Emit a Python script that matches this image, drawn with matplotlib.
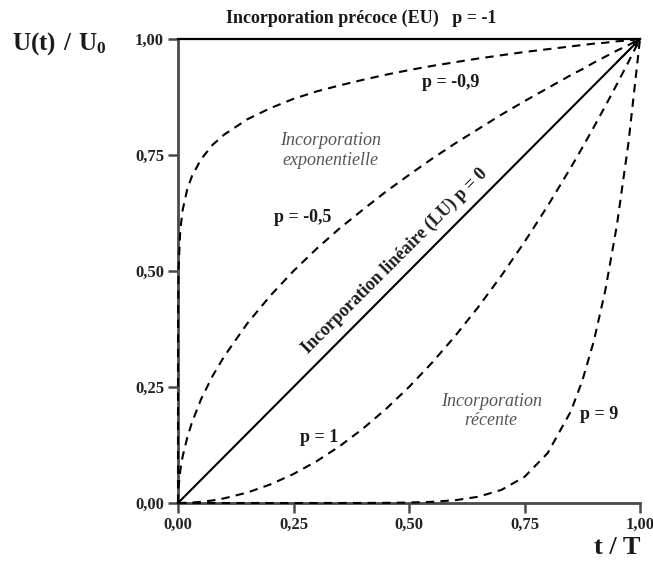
import matplotlib
matplotlib.use("Agg")
import matplotlib.pyplot as plt

plt.rcParams['font.family'] = ['Liberation Serif', 'DejaVu Serif']
plt.rcParams['mathtext.fontset'] = 'custom'
plt.rcParams['mathtext.rm'] = 'Liberation Serif'
plt.rcParams['mathtext.bf'] = 'Liberation Serif:bold'

# t / T sample positions
t_vals = [0, 1e-5, 1e-4, 1e-3, 0.005, 0.01, 0.02, 0.03, 0.05, 0.075, 0.1, 0.15, 0.2,
          0.25, 0.3, 0.35, 0.4, 0.45, 0.5, 0.55, 0.6, 0.65, 0.7, 0.75, 0.8, 0.85,
          0.875, 0.9, 0.925, 0.95, 0.975, 1.0]

# U(t)/U0 curves
u_p_m1 = [1.0] * len(t_vals)
u_p_m09 = [0, 0.316, 0.398, 0.501, 0.589, 0.631, 0.676, 0.704, 0.741, 0.772, 0.794, 0.827,
           0.851, 0.871, 0.887, 0.900, 0.912, 0.923, 0.933, 0.942, 0.950, 0.958, 0.965,
           0.972, 0.978, 0.984, 0.987, 0.990, 0.992, 0.995, 0.997, 1.0]
u_p_m05 = [0, 0.00316, 0.01, 0.0316, 0.0707, 0.1, 0.141, 0.173, 0.224, 0.274, 0.316, 0.387,
           0.447, 0.5, 0.548, 0.592, 0.632, 0.671, 0.707, 0.742, 0.775, 0.806, 0.837,
           0.866, 0.894, 0.922, 0.935, 0.949, 0.962, 0.975, 0.987, 1.0]
u_p_0 = [0, 1e-5, 1e-4, 1e-3, 0.005, 0.01, 0.02, 0.03, 0.05, 0.075, 0.1, 0.15, 0.2,
         0.25, 0.3, 0.35, 0.4, 0.45, 0.5, 0.55, 0.6, 0.65, 0.7, 0.75, 0.8, 0.85,
         0.875, 0.9, 0.925, 0.95, 0.975, 1.0]
u_p_1 = [0, 0, 0, 0.000001, 0.000025, 0.0001, 0.0004, 0.0009, 0.0025, 0.0056, 0.01, 0.0225,
         0.04, 0.0625, 0.09, 0.1225, 0.16, 0.2025, 0.25, 0.3025, 0.36, 0.4225, 0.49,
         0.5625, 0.64, 0.7225, 0.7656, 0.81, 0.8556, 0.9025, 0.9506, 1.0]
u_p_9 = [0, 0, 0, 0, 0, 0, 0, 0, 0, 0, 0, 0, 0, 0.000001, 0.000006, 0.000028, 0.000105,
         0.00034, 0.00098, 0.00253, 0.00605, 0.01346, 0.0282, 0.0563, 0.1074, 0.1969,
         0.2631, 0.3487, 0.4586, 0.5987, 0.7763, 1.0]

tick_vals = [0, 0.25, 0.5, 0.75, 1.0]
tick_labels = ["0,00", "0,25", "0,50", "0,75", "1,00"]

W, H = 653, 566
fig = plt.figure(figsize=(W / 100, H / 100), dpi=100)
ax = fig.add_axes([178 / W, 1 - 503 / H, (640 - 178) / W, (503 - 39) / H])
ax.set_xlim(0, 1)
ax.set_ylim(0, 1)

dash = (0, (4.0, 3.0))
ax.plot(t_vals, u_p_m1, color='black', lw=1.6, clip_on=False, zorder=3)
ax.plot(t_vals, u_p_0, color='black', lw=1.5, clip_on=False, zorder=3)
for u in (u_p_m09, u_p_m05, u_p_1, u_p_9):
    ax.plot(t_vals, u, color='black', lw=1.5, linestyle=dash, clip_on=False, zorder=3)

# small arrowhead where the curves meet
ax.annotate('', xy=(t_vals[-1], u_p_0[-1]), xytext=(t_vals[-3], u_p_0[-3]),
            arrowprops=dict(arrowstyle='-|>', color='black', lw=1.2,
                            mutation_scale=10, shrinkA=0, shrinkB=0),
            annotation_clip=False, zorder=4)

for s in ('top', 'right'):
    ax.spines[s].set_visible(False)
for s in ('left', 'bottom'):
    ax.spines[s].set_color('#4a4a4a')
    ax.spines[s].set_linewidth(2.0)

ax.set_xticks(tick_vals)
ax.set_xticklabels(tick_labels)
ax.set_yticks(tick_vals)
ax.set_yticklabels(tick_labels)
ax.tick_params(direction='out', length=7, width=1.8, color='#4a4a4a', pad=3)
for lab in ax.get_xticklabels() + ax.get_yticklabels():
    lab.set_fontweight('bold')
    lab.set_fontsize(12)
    lab.set_color('#222222')

bold = dict(fontweight='bold', color='#1a1a1a')
fig.text(12 / W, 1 - 44 / H, r'$\mathbf{U(t)\ /\ U_0}$', fontsize=18, ha='left', va='center',
         color='#1a1a1a')
fig.text(641 / W, 1 - 548 / H, 't / T', fontsize=19, ha='right', va='center', **bold)

ax.text(0.396, 1.045, 'Incorporation précoce (EU)   p = -1', transform=ax.transAxes,
        ha='center', va='center', fontsize=13, **bold)
ax.text(0.59, 0.906, 'p = -0,9', ha='center', va='center', fontsize=13, **bold)
ax.text(0.33, 0.76, 'Incorporation\nexponentielle', ha='center', va='center',
        fontsize=13, style='italic', color='#555555', linespacing=1.2)
ax.text(0.27, 0.616, 'p = -0,5', ha='center', va='center', fontsize=13, **bold)
ax.text(0.469, 0.522, 'Incorporation linéaire (LU) p = 0', ha='center', va='center',
        fontsize=13, rotation=45, rotation_mode='anchor', **bold)
ax.text(0.305, 0.142, 'p = 1', ha='center', va='center', fontsize=13, **bold)
ax.text(0.678, 0.198, 'Incorporation\nrécente', ha='center', va='center',
        fontsize=13, style='italic', color='#555555', linespacing=1.2)
ax.text(0.911, 0.19, 'p = 9', ha='center', va='center', fontsize=13, **bold)

fig.savefig('out.png', dpi=100)
